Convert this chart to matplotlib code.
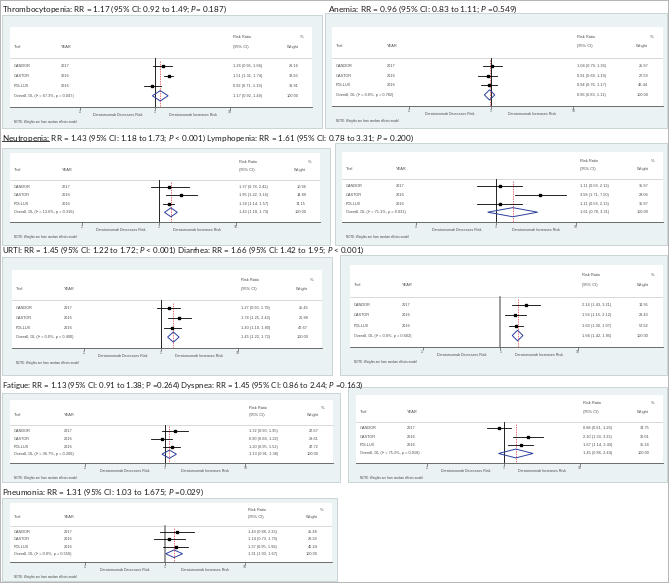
import matplotlib
matplotlib.use("Agg")
import matplotlib.pyplot as plt
from matplotlib.patches import Rectangle, Polygon
from matplotlib.lines import Line2D
from matplotlib.ticker import NullLocator
import matplotlib.transforms as mtransforms

plt.rcParams['font.family'] = ['Liberation Sans', 'DejaVu Sans']
plt.rcParams['mathtext.fontset'] = 'custom'
plt.rcParams['mathtext.rm'] = 'Lato'
plt.rcParams['mathtext.it'] = 'Lato:italic'

# ---------------- data ----------------
TRIALS = ["CANDOR", "CASTOR", "POLLUX"]
YEARS = ["2017", "2016", "2016"]
TICK_VALUES = [0.1, 1, 10]
TICK_LABELS = [".1", "1", "10"]

THROMBO_RR = [1.26, 1.51, 0.92]
THROMBO_LO = [0.95, 1.31, 0.71]
THROMBO_HI = [1.66, 1.74, 1.19]
THROMBO_WT = [29.16, 38.93, 31.91]
THROMBO_POOLED = [1.17, 0.92, 1.49]
THROMBO_HET = [67.3, 0.047]

ANEMIA_RR = [1.04, 0.91, 0.94]
ANEMIA_LO = [0.79, 0.69, 0.76]
ANEMIA_HI = [1.36, 1.19, 1.17]
ANEMIA_WT = [25.97, 27.59, 46.44]
ANEMIA_POOLED = [0.96, 0.83, 1.11]
ANEMIA_HET = [0.0, 0.782]

NEUTRO_RR = [1.37, 1.95, 1.34]
NEUTRO_LO = [0.78, 1.22, 1.14]
NEUTRO_HI = [2.42, 3.14, 1.57]
NEUTRO_WT = [10.96, 14.89, 74.15]
NEUTRO_POOLED = [1.43, 1.18, 1.73]
NEUTRO_HET = [13.0, 0.316]

LYMPHO_RR = [1.11, 3.58, 1.11]
LYMPHO_LO = [0.58, 1.71, 0.58]
LYMPHO_HI = [2.13, 7.50, 2.13]
LYMPHO_WT = [35.97, 28.06, 35.97]
LYMPHO_POOLED = [1.61, 0.78, 3.31]
LYMPHO_HET = [71.1, 0.031]

URTI_RR = [1.27, 1.74, 1.40]
URTI_LO = [0.90, 1.25, 1.10]
URTI_HI = [1.79, 2.42, 1.80]
URTI_WT = [25.45, 26.88, 47.67]
URTI_POOLED = [1.45, 1.22, 1.72]
URTI_HET = [0.0, 0.400]

DIARR_RR = [2.14, 1.56, 1.60]
DIARR_LO = [1.43, 1.15, 1.30]
DIARR_HI = [3.21, 2.12, 1.97]
DIARR_WT = [13.95, 28.43, 57.62]
DIARR_POOLED = [1.66, 1.42, 1.95]
DIARR_HET = [0.0, 0.602]

FATIGUE_RR = [1.32, 0.90, 1.20]
FATIGUE_LO = [0.90, 0.66, 0.95]
FATIGUE_HI = [1.95, 1.22, 1.52]
FATIGUE_WT = [22.67, 29.61, 47.72]
FATIGUE_POOLED = [1.13, 0.91, 1.38]
FATIGUE_HET = [36.7, 0.206]

DYSP_RR = [0.88, 2.10, 1.67]
DYSP_LO = [0.61, 1.33, 1.14]
DYSP_HI = [1.26, 3.33, 2.43]
DYSP_WT = [34.75, 30.01, 35.24]
DYSP_POOLED = [1.45, 0.86, 2.44]
DYSP_HET = [75.2, 0.018]

PNEU_RR = [1.43, 1.14, 1.37]
PNEU_LO = [0.88, 0.73, 0.95]
PNEU_HI = [2.33, 1.79, 1.98]
PNEU_WT = [25.48, 29.28, 45.24]
PNEU_POOLED = [1.31, 1.03, 1.67]
PNEU_HET = [0.0, 0.556]

TITLES = [
    "Thrombocytopenia: RR = 1.17 (95% CI: 0.92 to 1.49; $P$= 0.187)",
    "Anemia: RR = 0.96 (95% CI: 0.83 to 1.11; $P$ =0.549)",
    "Neutropenia: RR = 1.43 (95% CI: 1.18 to 1.73; $P$ < 0.001) Lymphopenia: RR = 1.61 (95% CI: 0.78 to 3.31; $P$ = 0.200)",
    "URTI: RR = 1.45 (95% CI: 1.22 to 1.72; $P$ < 0.001) Diarrhea: RR = 1.66 (95% CI: 1.42 to 1.95; $P$ < 0.001)",
    "Fatigue: RR = 1.13 (95% CI: 0.91 to 1.38; P =0.264) Dyspnea: RR = 1.45 (95% CI: 0.86 to 2.44; $P$ =0.163)",
    "Pneumonia: RR = 1.31 (95% CI: 1.03 to 1.675; $P$ =0.029)",
]
UNDERLINED = "Neutropenia:"

# ---------------- layout ----------------
W, H = 669, 583
fig = plt.figure(figsize=(W / 100, H / 100), dpi=100)
fig.patch.set_facecolor('white')


def fx(px):
    return px / W


def fy(py):
    return 1 - py / H


BG = '#eaf2f3'
TXT = '#4a4a4a'
TFS = 2.8

# title positions: (left x, centre y, right x target) in px
TITLE_POS = [(2, 9, 227), (328, 9, 518), (2, 138, 412), (2, 250, 363), (2, 385, 365), (2, 492, 203)]

# panels: data, bg rect (x0,y0,x1,y1), white box (x0,x1,ytop,yaxis), ref-line style
PANELS = [
    ((THROMBO_RR, THROMBO_LO, THROMBO_HI, THROMBO_WT, THROMBO_POOLED, THROMBO_HET), (2, 15, 322, 128), (10, 312, 27, 107), 'k'),
    ((ANEMIA_RR, ANEMIA_LO, ANEMIA_HI, ANEMIA_WT, ANEMIA_POOLED, ANEMIA_HET), (325, 13, 667, 128), (332, 663, 27, 106), 'k'),
    ((NEUTRO_RR, NEUTRO_LO, NEUTRO_HI, NEUTRO_WT, NEUTRO_POOLED, NEUTRO_HET), (2, 148, 330, 245), (10, 320, 153, 222), 'k'),
    ((LYMPHO_RR, LYMPHO_LO, LYMPHO_HI, LYMPHO_WT, LYMPHO_POOLED, LYMPHO_HET), (335, 143, 667, 245), (342, 663, 152, 222), 'k'),
    ((URTI_RR, URTI_LO, URTI_HI, URTI_WT, URTI_POOLED, URTI_HET), (2, 257, 332, 375), (12, 322, 270, 348), 'k'),
    ((DIARR_RR, DIARR_LO, DIARR_HI, DIARR_WT, DIARR_POOLED, DIARR_HET), (340, 255, 667, 375), (350, 663, 265, 347), 'g'),
    ((FATIGUE_RR, FATIGUE_LO, FATIGUE_HI, FATIGUE_WT, FATIGUE_POOLED, FATIGUE_HET), (2, 393, 340, 482), (10, 333, 400, 463), 'k'),
    ((DYSP_RR, DYSP_LO, DYSP_HI, DYSP_WT, DYSP_POOLED, DYSP_HET), (348, 387, 667, 482), (356, 663, 395, 463), 'k'),
    ((PNEU_RR, PNEU_LO, PNEU_HI, PNEU_WT, PNEU_POOLED, PNEU_HET), (2, 498, 337, 581), (10, 332, 503, 562), 'g'),
]

# column positions (fraction of white box)
C_TRIAL, C_YEAR, C_RR, C_WT, C_PCT = 0.012, 0.167, 0.74, 0.955, 0.972
# rows (fraction from top of white box)
Y_H1, Y_H2, Y_SEP = 0.125, 0.245, 0.39
Y_ROWS = [0.49, 0.615, 0.74]
Y_OVR = 0.86
# log-x placement: .1 at 0.232, 10 at 0.729 of box width
DEC = (0.729 - 0.232) / 2
XMIN = 10 ** (-1 - 0.232 / DEC)
XMAX = 10 ** (1 + (1 - 0.729) / DEC)

for data, bg, wb, refstyle in PANELS:
    rr, lo, hi, wt, pooled, het = data
    bx0, by0, bx1, by1 = bg
    fig.add_artist(Rectangle((fx(bx0), fy(by1)), (bx1 - bx0) / W, (by1 - by0) / H,
                             transform=fig.transFigure, fc=BG, ec='#c3cfd2', lw=0.6, zorder=-5))
    x0, x1, yt, ya = wb
    ax = fig.add_axes([fx(x0), fy(ya), (x1 - x0) / W, (ya - yt) / H])
    ax.set_zorder(1)
    ax.set_facecolor('white')
    ax.set_xscale('log')
    ax.set_xlim(XMIN, XMAX)
    ax.set_ylim(1, 0)
    for s in ['top', 'left', 'right']:
        ax.spines[s].set_visible(False)
    ax.spines['bottom'].set_color('#555555')
    ax.spines['bottom'].set_linewidth(0.6)
    ax.set_xticks(TICK_VALUES)
    ax.set_xticklabels(TICK_LABELS)
    ax.xaxis.set_minor_locator(NullLocator())
    ax.tick_params(axis='x', length=1.8, width=0.5, labelsize=2.6, pad=0.5,
                   colors='#555555')
    ax.set_yticks([])

    tr = mtransforms.blended_transform_factory(ax.transAxes, ax.transData)
    kw = dict(transform=tr, fontsize=TFS, color=TXT, va='center')
    ax.text(C_RR, Y_H1, "Risk Ratio", **kw)
    ax.text(C_PCT, Y_H1, "%", ha='right', **kw)
    ax.text(C_TRIAL, Y_H2, "Trial", **kw)
    ax.text(C_YEAR, Y_H2, "YEAR", **kw)
    ax.text(C_RR, Y_H2, "(95% CI)", **kw)
    ax.text(C_WT, Y_H2, "Weight", ha='right', **kw)
    ax.plot([0, 1], [Y_SEP, Y_SEP], transform=tr, color='#bbbbbb', lw=0.4)

    for i in range(3):
        y = Y_ROWS[i]
        ax.text(C_TRIAL, y, TRIALS[i], **kw)
        ax.text(C_YEAR, y, YEARS[i], **kw)
        ax.text(C_RR, y, f"{rr[i]:.2f} ({lo[i]:.2f}, {hi[i]:.2f})", **kw)
        ax.text(C_WT, y, f"{wt[i]:.2f}", ha='right', **kw)
        ax.plot([lo[i], hi[i]], [y, y], color='black', lw=0.6, zorder=3)
        ax.plot([rr[i]], [y], marker='s', ms=1.9, color='black', zorder=4)

    est, plo, phi = pooled
    ax.text(C_TRIAL, Y_OVR, f"Overall, DL (I² = {het[0]:.1f}%, p = {het[1]:.3f})", **kw)
    ax.text(C_RR, Y_OVR, f"{est:.2f} ({plo:.2f}, {phi:.2f})", **kw)
    ax.text(C_WT, Y_OVR, f"{sum(wt):.2f}", ha='right', **kw)
    dh = 0.065
    ax.add_patch(Polygon([(plo, Y_OVR), (est, Y_OVR - dh), (phi, Y_OVR), (est, Y_OVR + dh)],
                         closed=True, fill=False, ec='#2b3f9e', lw=0.7, zorder=4))

    if refstyle == 'g':
        ax.plot([1, 1], [Y_SEP, 1], color='#8a8a8a', lw=1.2, zorder=2)
    else:
        ax.plot([1, 1], [Y_SEP, 1], color='black', lw=0.6, zorder=2)
    ax.plot([est, est], [Y_SEP + 0.03, 1], color='#e03030', lw=0.5,
            dashes=(2, 1.5), zorder=2)

    akw = dict(xycoords=('data', 'axes fraction'), textcoords='offset pixels',
               ha='center', va='center', fontsize=2.6, color=TXT, annotation_clip=False)
    ax.annotate("Daratumumab Decreases Risk", xy=(10 ** -0.5, 0), xytext=(0, -8), **akw)
    ax.annotate("Daratumumab Increases Risk", xy=(10 ** 0.5, 0), xytext=(0, -8), **akw)
    ax.annotate("NOTE: Weights are from random effects model", xy=(C_TRIAL, 0),
                xycoords='axes fraction', xytext=(0, -15), textcoords='offset pixels',
                ha='left', va='center', fontsize=2.2, color=TXT, annotation_clip=False)

# titles
renderer = fig.canvas.get_renderer()
for title, (tx, ty, tright) in zip(TITLES, TITLE_POS):
    t = fig.text(fx(tx), fy(ty), title, fontsize=8, family='Lato', color='#1a1a1a',
                 ha='left', va='center', zorder=10)
    w = t.get_window_extent(renderer).width
    fs = 8 * (tright - tx) / w
    t.set_fontsize(fs)
    if title.startswith(UNDERLINED):
        u = fig.text(fx(tx), fy(ty), UNDERLINED, fontsize=fs, family='Lato', alpha=0)
        uw = u.get_window_extent(renderer).width
        uy = ty + fs * 100 / 72 * 0.42
        fig.add_artist(Line2D([fx(tx), fx(tx + uw)], [fy(uy), fy(uy)],
                              transform=fig.transFigure, color='#1a1a1a', lw=0.6, zorder=10))

fig.add_artist(Rectangle((0, 0), 1, 1, transform=fig.transFigure, fill=False,
                         ec='#a8a8a8', lw=1.2, zorder=20))

fig.savefig("out.png", dpi=100, facecolor='white')
